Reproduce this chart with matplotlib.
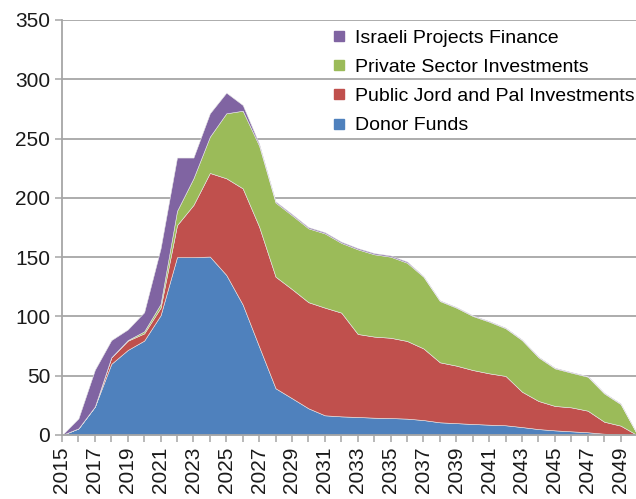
import matplotlib
matplotlib.use("Agg")
from matplotlib import pyplot as plt
from matplotlib.lines import Line2D

years = list(range(2015, 2051))

donor_funds = [0, 5.6, 24, 60, 71.7, 79.6, 101, 150, 150, 150.5, 135, 110, 74.5, 39.4,
               31, 22.5, 16.6, 15.7, 15.2, 14.6, 14.3, 13.8, 12.6, 10.7, 10, 9.3, 8.7,
               8.2, 6.7, 5, 3.9, 3.1, 2.3, 1.1, 0.5, 0]
public_invest = [0, 0, 0, 5.5, 7.8, 6.1, 6.4, 27, 44, 70.5, 81.5, 98, 101.2, 94.1, 92,
                 89.5, 90.8, 87.5, 70, 68.4, 67.7, 65.5, 60.4, 50.6, 48.5, 45.5, 43.3,
                 41.6, 29.8, 23.7, 20.6, 20.2, 18.2, 10.1, 7.4, 0]
private_invest = [0, 0, 0, 0, 0.5, 1.7, 3.1, 12, 22.5, 30.6, 54.8, 65.5, 68.3, 62.5,
                  62.3, 62.3, 62.6, 58.8, 71.4, 69.4, 68.4, 66, 60.5, 51.7, 48.9, 45.6,
                  43.6, 40.2, 43.5, 36.8, 31.7, 29.3, 28.7, 23.9, 18.2, 1]
israeli_finance = [0, 8.4, 31, 14.5, 9, 16.1, 46.9, 45, 17.5, 19.7, 17.4, 4.8, 1.5, 1,
                   1, 1, 1, 1, 1, 1, 1, 1, 0.5, 0.5, 0.5, 0.5, 0.5, 0.5, 0.5, 0.5, 0.5,
                   0.5, 0.5, 0.5, 0.5, 0]

labels = ["Donor Funds", "Public Jord and Pal Investments",
          "Private Sector Investments", "Israeli Projects Finance"]
colors = ["#4F81BD", "#C0504D", "#9BBB59", "#8064A2"]

plt.rcParams['font.family'] = ['Liberation Sans', 'DejaVu Sans']

fig = plt.figure(figsize=(6.36, 4.99), dpi=100)
ax = fig.add_axes([62 / 636, 64 / 499, 575 / 636, 415 / 499])

ax.stackplot(years, donor_funds, public_invest, private_invest, israeli_finance,
             colors=colors, edgecolor="#e6e6e6", linewidth=0.4, zorder=2)

ax.set_xlim(2015, 2050)
ax.set_ylim(0, 350)
ax.set_yticks(range(0, 351, 50))
ax.set_xticks(years)
ax.set_xticklabels([str(y) if (y - 2015) % 2 == 0 else "" for y in years], rotation=90)
ax.grid(axis="y", color="#a6a6a6", linewidth=1.3, zorder=0)
ax.set_axisbelow(True)

for s in ["top", "right"]:
    ax.spines[s].set_visible(False)
for s in ["left", "bottom"]:
    ax.spines[s].set_color("#a6a6a6")
    ax.spines[s].set_linewidth(1.3)
ax.tick_params(colors="#a6a6a6", labelcolor="#1a1a1a", labelsize=15, length=5, width=1.1)

handles = [Line2D([], [], marker="s", linestyle="none", markersize=7.5,
                  color=colors[i]) for i in [3, 2, 1, 0]]
ax.legend(handles, [labels[i] for i in [3, 2, 1, 0]], loc="upper left",
          bbox_to_anchor=(332 / 636, 1 - 29 / 499), bbox_transform=fig.transFigure,
          frameon=False, fontsize=14, handlelength=0.7, handletextpad=0.5,
          labelspacing=0.6, borderpad=0, borderaxespad=0)

fig.savefig("out.png", dpi=100)
